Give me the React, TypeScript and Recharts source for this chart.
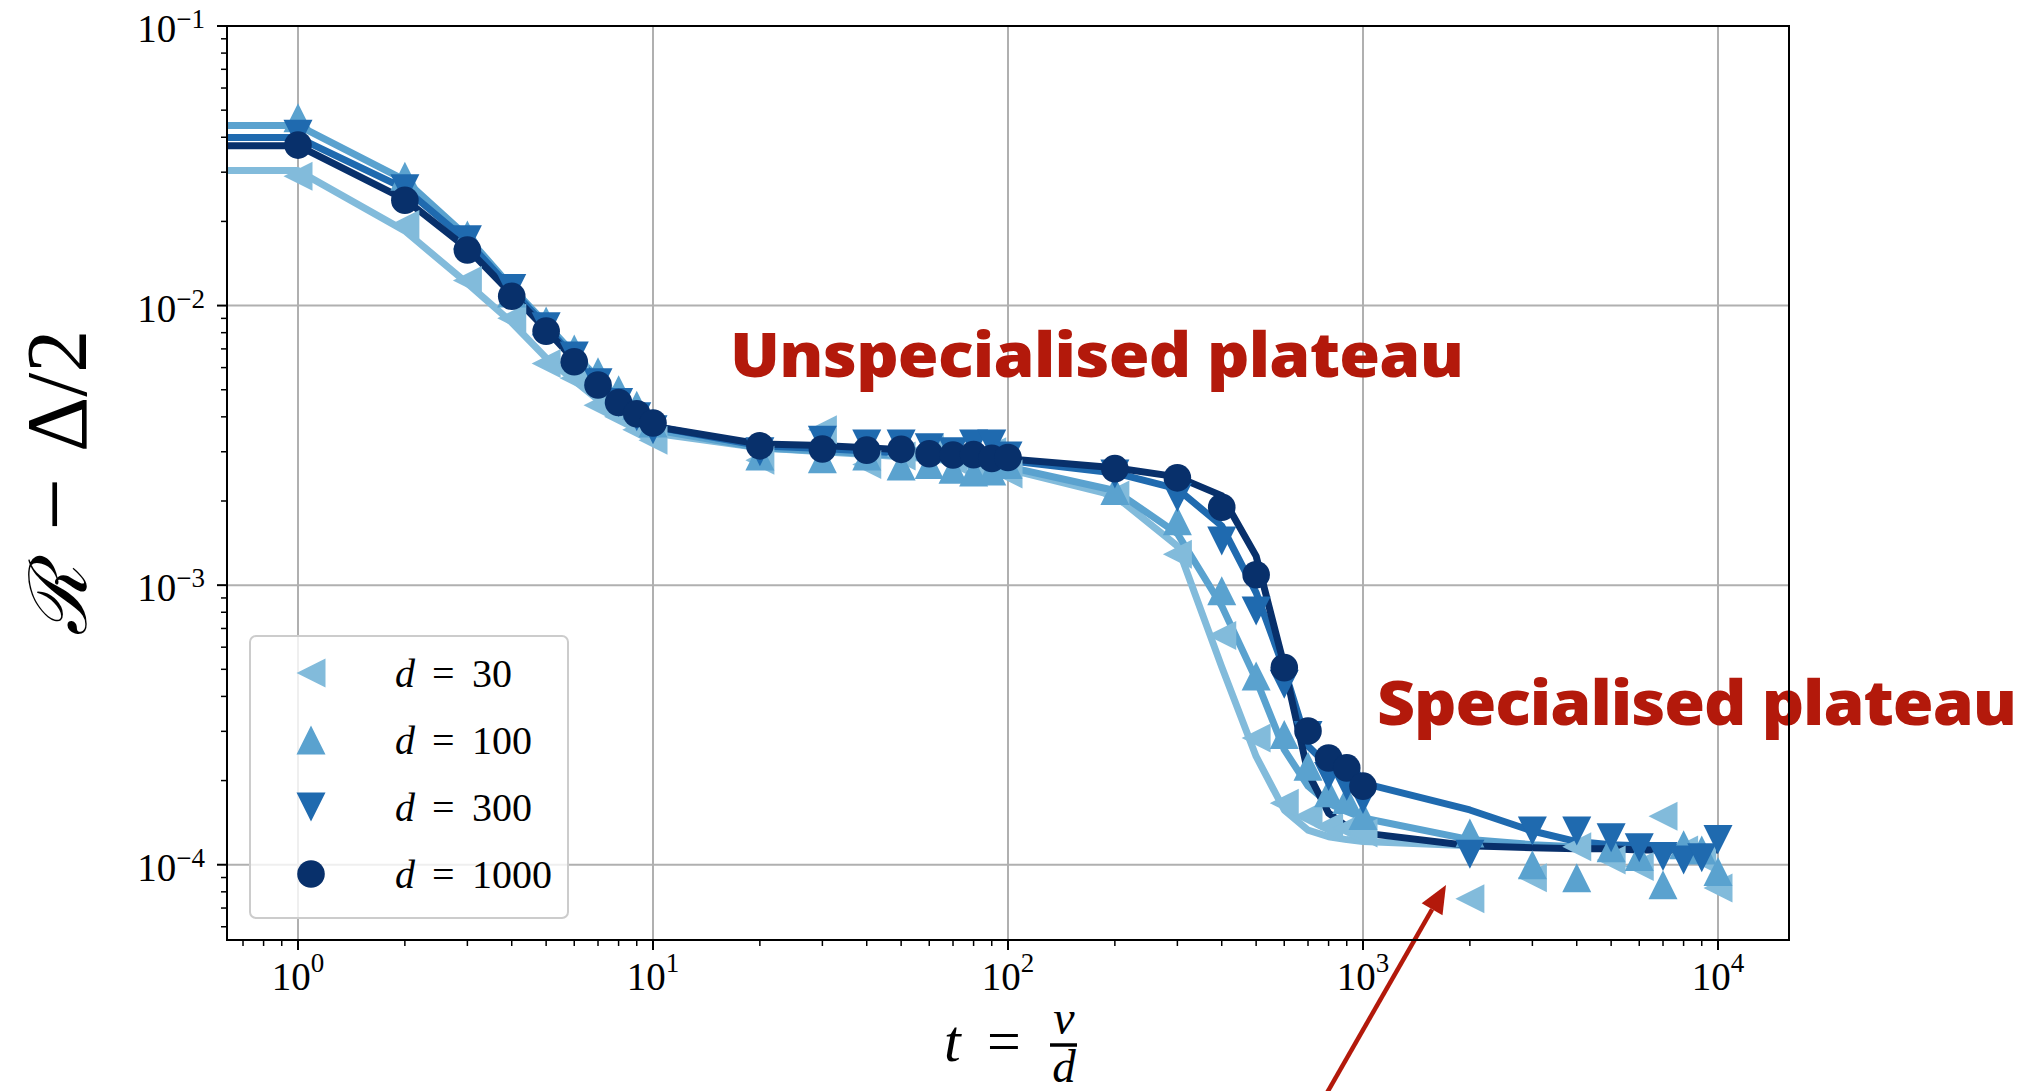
import React from 'react';
import {
  ComposedChart,
  Line,
  Scatter,
  XAxis,
  YAxis,
  CartesianGrid,
  Legend,
  ReferenceArea,
  Customized,
} from 'recharts';

// ---------------- data ----------------
const T_MARKS = [
  1, 2, 3, 4, 5, 6, 7, 8, 9, 10, 20, 30, 40, 50, 60, 70, 80, 90, 100, 200, 300, 400, 500, 600, 700, 800,
  900, 1000, 2000, 3000, 4000, 5000, 6000, 7000, 8000, 9000, 10000,
];
const T_MARKS_D1000 = [
  1, 2, 3, 4, 5, 6, 7, 8, 9, 10, 20, 30, 40, 50, 60, 70, 80, 90, 100, 200, 300, 400, 500, 600, 700, 800,
  900, 1000,
];
const T_LINES = [
  0.5, 1, 2, 3, 4, 5, 6, 7, 8, 9, 10, 20, 30, 40, 50, 60, 70, 80, 90, 100, 200, 300, 400, 500, 600, 700,
  800, 900, 1000, 2000, 3000, 4000, 5000, 6000, 7000, 8000, 9000, 10000,
];

const MARK_D30 = [
  0.029, 0.0195, 0.0123, 0.009, 0.0062, 0.0055, 0.0044, 0.004, 0.0036, 0.0033, 0.0028, 0.0036, 0.0027,
  0.0029, 0.0031, 0.0028, 0.0027, 0.003, 0.0025, 0.0021, 0.00129, 0.00066, 0.000284, 0.000166, 0.000149,
  0.000137, 0.000135, 0.00013, 0.0000755, 0.0000898, 0.000116, 0.000104, 0.0000986, 0.000149, 0.000113,
  0.000105, 0.0000825,
];
const MARK_D100 = [
  0.047, 0.029, 0.0179, 0.0111, 0.0088, 0.007, 0.0058, 0.005, 0.0044, 0.0038, 0.0029, 0.00283, 0.0029,
  0.00267, 0.0027, 0.0026, 0.00254, 0.00256, 0.0027, 0.00218, 0.0017, 0.000955, 0.000473, 0.000292,
  0.000225, 0.000181, 0.000171, 0.00015, 0.00013, 0.0001, 0.0000898, 0.000115, 0.000107, 0.0000848,
  0.000118, 0.000113, 0.0000946,
];
const MARK_D300 = [
  0.041, 0.0262, 0.0172, 0.0115, 0.0084, 0.0066, 0.0053, 0.0045, 0.004, 0.0036, 0.003, 0.0033, 0.0032,
  0.0032, 0.0031, 0.003, 0.0032, 0.0032, 0.0029, 0.0025, 0.00206, 0.00144, 0.000809, 0.000442, 0.00029,
  0.000207, 0.000191, 0.000171, 0.000109, 0.000132, 0.000132, 0.000125, 0.000115, 0.000107, 0.000104,
  0.000106, 0.000123,
];
const MARK_D1000 = [
  0.0375, 0.0238, 0.0158, 0.0108, 0.0081, 0.0063, 0.0052, 0.0045, 0.0041, 0.0038, 0.00315, 0.00307,
  0.00304, 0.00306, 0.00295, 0.00292, 0.00293, 0.00284, 0.00286, 0.00261, 0.00242, 0.0019, 0.00109,
  0.000507, 0.000301, 0.000241, 0.000222, 0.000191,
];

const LINE_D30 = [
  0.0304, 0.0304, 0.0185, 0.012, 0.0087, 0.0065, 0.0054, 0.0046, 0.0041, 0.0038, 0.0035, 0.0031, 0.003,
  0.00293, 0.00288, 0.00283, 0.00278, 0.00272, 0.00266, 0.0026, 0.00209, 0.00138, 0.00051, 0.000244,
  0.000157, 0.000133, 0.000126, 0.000123, 0.000121, 0.000117, 0.000116, 0.000116, 0.000115, 0.000115,
  0.000115, 0.000115, 0.000115, 0.000115,
];
const LINE_D100 = [
  0.0441, 0.0441, 0.0281, 0.0176, 0.0116, 0.0086, 0.0067, 0.0055, 0.0047, 0.0041, 0.0036, 0.0031, 0.00302,
  0.00296, 0.0029, 0.00285, 0.0028, 0.00275, 0.0027, 0.00265, 0.00218, 0.00153, 0.000843, 0.00046,
  0.000258, 0.000191, 0.000166, 0.000155, 0.000147, 0.000123, 0.000118, 0.000116, 0.000115, 0.000115,
  0.000114, 0.000114, 0.000114, 0.000114,
];
const LINE_D300 = [
  0.0399, 0.0399, 0.0262, 0.017, 0.0114, 0.0084, 0.0065, 0.0054, 0.0046, 0.0041, 0.0037, 0.00315, 0.00308,
  0.00302, 0.00297, 0.00293, 0.00289, 0.00285, 0.00282, 0.00279, 0.00252, 0.00221, 0.00163, 0.00094,
  0.0005, 0.000266, 0.000225, 0.000205, 0.000196, 0.000157, 0.000132, 0.000121, 0.000118, 0.000117,
  0.000116, 0.000115, 0.000115, 0.000114,
];
const LINE_D1000 = [
  0.0373, 0.0373, 0.024, 0.016, 0.011, 0.0082, 0.0064, 0.0053, 0.0046, 0.0041, 0.0037, 0.0032, 0.00316,
  0.0031, 0.00305, 0.003, 0.00295, 0.0029, 0.00286, 0.00283, 0.00263, 0.00244, 0.00209, 0.00127,
  0.000514, 0.000213, 0.000153, 0.000137, 0.00013, 0.000117, 0.000115, 0.000114, 0.000114, 0.000113,
  0.000113, 0.000113, 0.000113, 0.000113,
];

const D_LABELS = ['30', '100', '300', '1000'];
const COLORS = ['#82bbdb', '#5aa2cf', '#1f6aaf', '#08306b'];
const MARKERS = ['left', 'up', 'down', 'circle'];

const X_DOMAIN = [0.630957, 15848.93];
const Y_DOMAIN = [5.38e-5, 0.1];
const X_TICKS = [
  0.7, 0.8, 0.9, 1, 2, 3, 4, 5, 6, 7, 8, 9, 10, 20, 30, 40, 50, 60, 70, 80, 90, 100, 200, 300, 400, 500,
  600, 700, 800, 900, 1000, 2000, 3000, 4000, 5000, 6000, 7000, 8000, 9000, 10000,
];
const Y_TICKS = [
  6e-5, 7e-5, 8e-5, 9e-5, 1e-4, 2e-4, 3e-4, 4e-4, 5e-4, 6e-4, 7e-4, 8e-4, 9e-4, 1e-3, 2e-3, 3e-3, 4e-3,
  5e-3, 6e-3, 7e-3, 8e-3, 9e-3, 1e-2, 2e-2, 3e-2, 4e-2, 5e-2, 6e-2, 7e-2, 8e-2, 9e-2, 1e-1,
];
const X_GRID = [1, 10, 100, 1000, 10000];
const Y_GRID = [1e-4, 1e-3, 1e-2, 1e-1];

const RED = '#b3190b';
const SERIF = "'Liberation Serif', 'DejaVu Serif', serif";
const SANS_BOLD = "'Open Sans', 'Lato', sans-serif";

// -------------- helpers --------------
const toPoints = (ts: number[], vs: number[]) => ts.map((t, i) => ({ t, v: vs[i] }));

const LINES = [LINE_D30, LINE_D100, LINE_D300, LINE_D1000].map((vs) => toPoints(T_LINES, vs));
const MARKS = [
  toPoints(T_MARKS, MARK_D30),
  toPoints(T_MARKS, MARK_D100),
  toPoints(T_MARKS, MARK_D300),
  toPoints(T_MARKS_D1000, MARK_D1000),
];

const markerEl = (kind: string, cx: number, cy: number, color: string, key?: string) => {
  const s = 14.5;
  if (kind === 'circle') return <circle key={key} cx={cx} cy={cy} r={13.8} fill={color} />;
  let pts: number[][] = [];
  if (kind === 'left') pts = [[cx - s, cy], [cx + s, cy - s], [cx + s, cy + s]];
  if (kind === 'up') pts = [[cx, cy - s], [cx - s, cy + s], [cx + s, cy + s]];
  if (kind === 'down') pts = [[cx, cy + s], [cx - s, cy - s], [cx + s, cy - s]];
  return <polygon key={key} points={pts.map((p) => p.join(',')).join(' ')} fill={color} />;
};

const isMajor = (v: number) => Math.abs(Math.log10(v) - Math.round(Math.log10(v))) < 1e-6;
const expText = (v: number) => {
  const e = Math.round(Math.log10(v));
  return e < 0 ? `\u2212${-e}` : `${e}`;
};

const XTick = (props: any) => {
  const { x, y, payload } = props;
  const major = isMajor(payload.value);
  return (
    <g>
      <line x1={x} x2={x} y1={y} y2={y + (major ? 10 : 6)} stroke="#000" strokeWidth={major ? 2 : 1.5} />
      {major && (
        <text x={x} y={y + 50} textAnchor="middle" fontFamily={SERIF} fontSize={39} fill="#000">
          10
          <tspan dy={-18} fontSize={27}>
            {expText(payload.value)}
          </tspan>
        </text>
      )}
    </g>
  );
};

const YTick = (props: any) => {
  const { x, y, payload } = props;
  const major = isMajor(payload.value);
  return (
    <g>
      <line x1={x} x2={x - (major ? 10 : 6)} y1={y} y2={y} stroke="#000" strokeWidth={major ? 2 : 1.5} />
      {major && (
        <text x={x - 22} y={y + 16} textAnchor="end" fontFamily={SERIF} fontSize={39} fill="#000">
          10
          <tspan dy={-14} fontSize={27}>
            {expText(payload.value)}
          </tspan>
        </text>
      )}
    </g>
  );
};

const LegendBox = () => (
  <svg width={322} height={286} style={{ display: 'block', overflow: 'visible' }}>
    <rect x={1} y={1} width={318} height={282} rx={6} fill="#ffffff" fillOpacity={0.8} stroke="#cccccc" strokeWidth={2} />
    {D_LABELS.map((d, i) => {
      const cy = 38 + i * 67;
      return (
        <g key={d}>
          {markerEl(MARKERS[i], 62, cy, COLORS[i])}
          <text x={146} y={cy + 14} fontFamily={SERIF} fontSize={40} fontStyle="italic" fill="#000">
            d
          </text>
          <text x={183} y={cy + 14} fontFamily={SERIF} fontSize={40} fill="#000">
            =
          </text>
          <text x={223} y={cy + 14} fontFamily={SERIF} fontSize={40} fill="#000">
            {d}
          </text>
        </g>
      );
    })}
  </svg>
);

const Annotations = () => {
  // arrow geometry
  const tip = [1446, 885];
  const dir = [0.497, -0.868];
  const perp = [0.868, 0.497];
  const headLen = 28;
  const headHalf = 12;
  const base = [tip[0] - headLen * dir[0], tip[1] - headLen * dir[1]];
  const start = [tip[0] - 280 * dir[0], tip[1] - 280 * dir[1]];
  const head = [
    tip,
    [base[0] + headHalf * perp[0], base[1] + headHalf * perp[1]],
    [base[0] - headHalf * perp[0], base[1] - headHalf * perp[1]],
  ];
  const sx = 1.065;
  return (
    <g>
      {/* y label */}
      <g transform="translate(86, 636) rotate(-90)">
        <text x={0} y={0} fontFamily="'DejaVu Serif', serif" fontStyle="italic" fontSize={80} fill="#000">
          ℛ
        </text>
        <text x={105} y={0} fontFamily={SERIF} fontSize={94} fill="#000">
          −
        </text>
        <text x={184} y={0} fontFamily={SERIF} fontSize={86} fill="#000">
          Δ/2
        </text>
      </g>
      {/* x label */}
      <text x={944} y={1061} fontFamily={SERIF} fontStyle="italic" fontSize={60} fill="#000">
        t
      </text>
      <text x={987} y={1061} fontFamily={SERIF} fontSize={60} fill="#000">
        =
      </text>
      <text x={1064} y={1034} textAnchor="middle" fontFamily={SERIF} fontStyle="italic" fontSize={48} fill="#000">
        ν
      </text>
      <line x1={1050} x2={1077} y1={1045} y2={1045} stroke="#000" strokeWidth={3.5} />
      <text x={1064} y={1082} textAnchor="middle" fontFamily={SERIF} fontStyle="italic" fontSize={47} fill="#000">
        d
      </text>
      {/* annotations */}
      <g transform={`translate(730, 377) scale(${sx}, 1)`}>
        <text
          x={0}
          y={0}
          fontFamily={SANS_BOLD}
          fontWeight={800}
          fontSize={62}
          fill={RED}
          textLength={734 / sx}
          lengthAdjust="spacing"
        >
          Unspecialised plateau
        </text>
      </g>
      <g transform={`translate(1377, 725) scale(${sx}, 1)`}>
        <text
          x={0}
          y={0}
          fontFamily={SANS_BOLD}
          fontWeight={800}
          fontSize={62}
          fill={RED}
          textLength={640 / sx}
          lengthAdjust="spacing"
        >
          Specialised plateau
        </text>
      </g>
      <line x1={start[0]} y1={start[1]} x2={base[0]} y2={base[1]} stroke={RED} strokeWidth={4.5} />
      <polygon points={head.map((p) => p.join(',')).join(' ')} fill={RED} />
    </g>
  );
};

export default function App() {
  const series: React.ReactNode[] = [];
  D_LABELS.forEach((d, i) => {
    series.push(
      <Scatter
        key={`s${d}`}
        name={`d = ${d}`}
        data={MARKS[i]}
        dataKey="v"
        fill={COLORS[i]}
        legendType="none"
        isAnimationActive={false}
        shape={(p: any) => markerEl(MARKERS[i], p.cx, p.cy, COLORS[i])}
      />
    );
    series.push(
      <Line
        key={`l${d}`}
        data={LINES[i]}
        dataKey="v"
        type="linear"
        stroke={COLORS[i]}
        strokeWidth={7}
        strokeLinejoin="round"
        dot={false}
        activeDot={false}
        legendType="none"
        isAnimationActive={false}
      />
    );
  });

  return (
    <div style={{ position: 'absolute', left: 0, top: 0, width: 2031, height: 1091, background: '#fff' }}>
      <ComposedChart width={2031} height={1091} margin={{ top: 26, right: 242, left: 77, bottom: 51 }}>
        <CartesianGrid
          stroke="#b0b0b0"
          strokeWidth={2}
          verticalValues={X_GRID}
          horizontalValues={Y_GRID}
        />
        <XAxis
          dataKey="t"
          type="number"
          scale="log"
          domain={X_DOMAIN}
          allowDataOverflow
          ticks={X_TICKS}
          interval={0}
          tickLine={false}
          tickSize={0}
          tickMargin={0}
          tick={(p: any) => <XTick {...p} />}
          height={100}
          axisLine={{ stroke: '#000', strokeWidth: 2 }}
        />
        <YAxis
          dataKey="v"
          type="number"
          scale="log"
          domain={Y_DOMAIN}
          allowDataOverflow
          ticks={Y_TICKS}
          interval={0}
          tickLine={false}
          tickSize={0}
          tickMargin={0}
          tick={(p: any) => <YTick {...p} />}
          width={150}
          axisLine={{ stroke: '#000', strokeWidth: 2 }}
        />
        {series}
        <ReferenceArea
          x1={X_DOMAIN[0]}
          x2={X_DOMAIN[1]}
          y1={Y_DOMAIN[0]}
          y2={Y_DOMAIN[1]}
          fill="none"
          fillOpacity={0}
          stroke="#000"
          strokeWidth={2}
          ifOverflow="visible"
        />
        <Legend
          layout="horizontal"
          verticalAlign="middle"
          align="center"
          content={() => <LegendBox />}
          wrapperStyle={{ position: 'absolute', left: 249, top: 635, width: 322, height: 286, margin: 0, padding: 0 }}
        />
        <Customized component={<Annotations />} />
      </ComposedChart>
    </div>
  );
}
